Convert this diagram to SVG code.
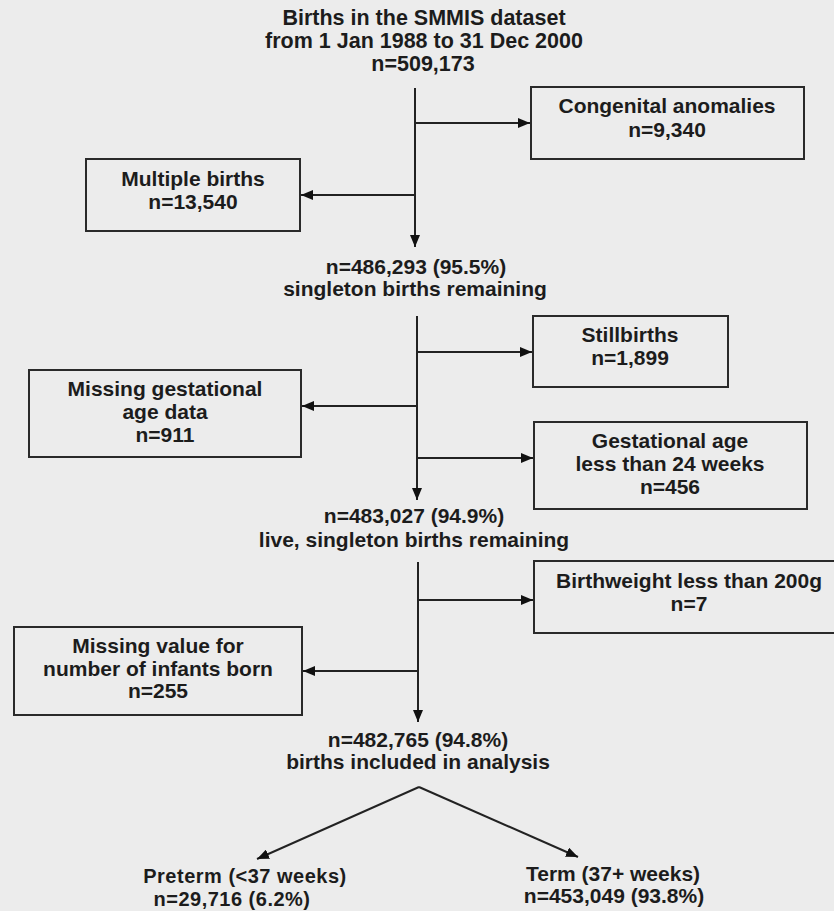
<svg xmlns="http://www.w3.org/2000/svg" width="834" height="911" viewBox="0 0 834 911">
<defs>
<style>
text{font-family:"Liberation Sans",Arial,sans-serif;font-weight:bold;font-size:21px;fill:#1c1c1c;text-anchor:middle}
.title{font-size:21.5px}
.sm{font-size:20px;letter-spacing:0.5px}
.box{fill:#ececec;stroke:#2a2a2a;stroke-width:2}
.ln{fill:none;stroke:#222;stroke-width:2}
</style>
<marker id="ah" viewBox="0 0 12 10" refX="12" refY="5" markerWidth="12" markerHeight="10" markerUnits="userSpaceOnUse" orient="auto">
<path d="M0,0 L12,5 L0,10 z" fill="#111"/>
</marker>
</defs>
<rect x="0" y="0" width="834" height="911" fill="#ececec"/>

<g id="start">
<text class="title" x="424" y="25">Births in the SMMIS dataset</text>
<text class="title" x="424" y="48">from 1 Jan 1988 to 31 Dec 2000</text>
<text class="title" x="423" y="71">n=509,173</text>
</g>

<g id="congenital">
<rect class="box" x="531" y="87" width="273" height="72"/>
<text x="667" y="113">Congenital anomalies</text>
<text x="667" y="137">n=9,340</text>
</g>

<g id="multiple">
<rect class="box" x="86" y="159" width="214" height="72"/>
<text x="193" y="186">Multiple births</text>
<text x="193" y="209">n=13,540</text>
</g>

<g id="singleton">
<text x="416" y="274">n=486,293 (95.5%)</text>
<text x="415" y="296">singleton births remaining</text>
</g>

<g id="stillbirths">
<rect class="box" x="533" y="316" width="195" height="71"/>
<text x="630" y="342">Stillbirths</text>
<text x="630" y="365">n=1,899</text>
</g>

<g id="missing-ga">
<rect class="box" x="29" y="370" width="272" height="87"/>
<text x="165" y="396">Missing gestational</text>
<text x="165" y="419">age data</text>
<text x="165" y="442">n=911</text>
</g>

<g id="ga-lt24">
<rect class="box" x="534" y="422" width="273" height="87"/>
<text x="670" y="448">Gestational age</text>
<text x="670" y="471">less than 24 weeks</text>
<text x="670" y="494">n=456</text>
</g>

<g id="live-singleton">
<text x="414" y="523">n=483,027 (94.9%)</text>
<text x="414" y="547">live, singleton births remaining</text>
</g>

<g id="birthweight">
<rect class="box" x="534" y="561" width="312" height="72"/>
<text x="689" y="588">Birthweight less than 200g</text>
<text x="689" y="611">n=7</text>
</g>

<g id="missing-infants">
<rect class="box" x="14" y="627" width="288" height="88"/>
<text x="158" y="653">Missing value for</text>
<text x="158" y="676">number of infants born</text>
<text x="158" y="698">n=255</text>
</g>

<g id="included">
<text x="418" y="747">n=482,765 (94.8%)</text>
<text x="418" y="769">births included in analysis</text>
</g>

<g id="preterm">
<text class="sm" x="245" y="883">Preterm (&lt;37 weeks)</text>
<text class="sm" x="232" y="906">n=29,716 (6.2%)</text>
</g>

<g id="term">
<text x="613" y="881">Term (37+ weeks)</text>
<text x="614" y="903">n=453,049 (93.8%)</text>
</g>

<g id="connectors">
<line class="ln" x1="415" y1="88" x2="415" y2="247" marker-end="url(#ah)"/>
<line class="ln" x1="415" y1="123" x2="530" y2="123" marker-end="url(#ah)"/>
<line class="ln" x1="415" y1="195" x2="301" y2="195" marker-end="url(#ah)"/>

<line class="ln" x1="417" y1="316" x2="417" y2="500" marker-end="url(#ah)"/>
<line class="ln" x1="417" y1="352" x2="532" y2="352" marker-end="url(#ah)"/>
<line class="ln" x1="417" y1="406" x2="302" y2="406" marker-end="url(#ah)"/>
<line class="ln" x1="417" y1="458" x2="533" y2="458" marker-end="url(#ah)"/>

<line class="ln" x1="418" y1="562" x2="418" y2="722" marker-end="url(#ah)"/>
<line class="ln" x1="418" y1="600" x2="533" y2="600" marker-end="url(#ah)"/>
<line class="ln" x1="418" y1="671" x2="303" y2="671" marker-end="url(#ah)"/>

<line class="ln" x1="419" y1="787" x2="257" y2="859" marker-end="url(#ah)"/>
<line class="ln" x1="419" y1="787" x2="578" y2="857" marker-end="url(#ah)"/>
</g>
</svg>
